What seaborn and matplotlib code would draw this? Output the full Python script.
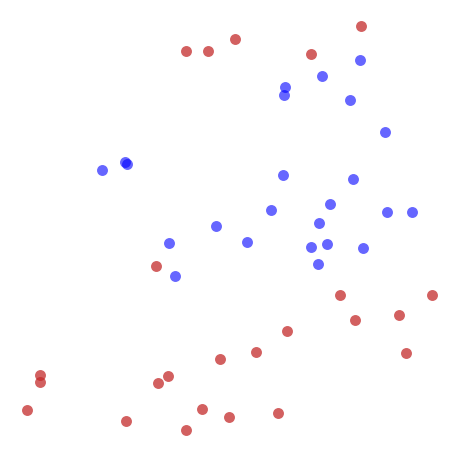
import pandas as pd
import numpy as np
import matplotlib.pyplot as plt
import seaborn as sns

# point positions (pixel-like units, y downward)
blue_x = [360, 322, 285, 284, 350, 385, 102, 125, 127, 283, 353, 330, 271, 387, 412, 216, 319, 169, 247, 311, 327, 363, 318, 175]
blue_y = [60, 76, 87, 95, 100, 132, 170, 162, 164, 175, 179, 204, 210, 212, 212, 226, 223, 243, 242, 247, 244, 248, 264, 276]
red_x = [361, 186, 208, 235, 311, 156, 340, 432, 355, 399, 287, 406, 256, 220, 40, 40, 168, 158, 27, 202, 229, 278, 126, 186]
red_y = [26, 51, 51, 39, 54, 266, 295, 295, 320, 315, 331, 353, 352, 359, 375, 382, 376, 383, 410, 409, 417, 413, 421, 430]

data = pd.DataFrame({
    "x": blue_x + red_x,
    "y": blue_y + red_y,
    "group": ["blue"] * len(blue_x) + ["red"] * len(red_x),
})

fig = plt.figure(figsize=(4.61, 4.58), dpi=100)
ax = fig.add_axes([0, 0, 1, 1])

sns.scatterplot(data=data[data.group == "blue"], x="x", y="y", color="#0000ff", alpha=0.6,
                s=62, linewidth=0, ax=ax, legend=False)
sns.scatterplot(data=data[data.group == "red"], x="x", y="y", color="#c42b2b", alpha=0.75,
                s=62, linewidth=0, ax=ax, legend=False)

ax.set_xlim(0, 461)
ax.set_ylim(458, 0)
ax.axis("off")

fig.savefig("out.png", dpi=100)
